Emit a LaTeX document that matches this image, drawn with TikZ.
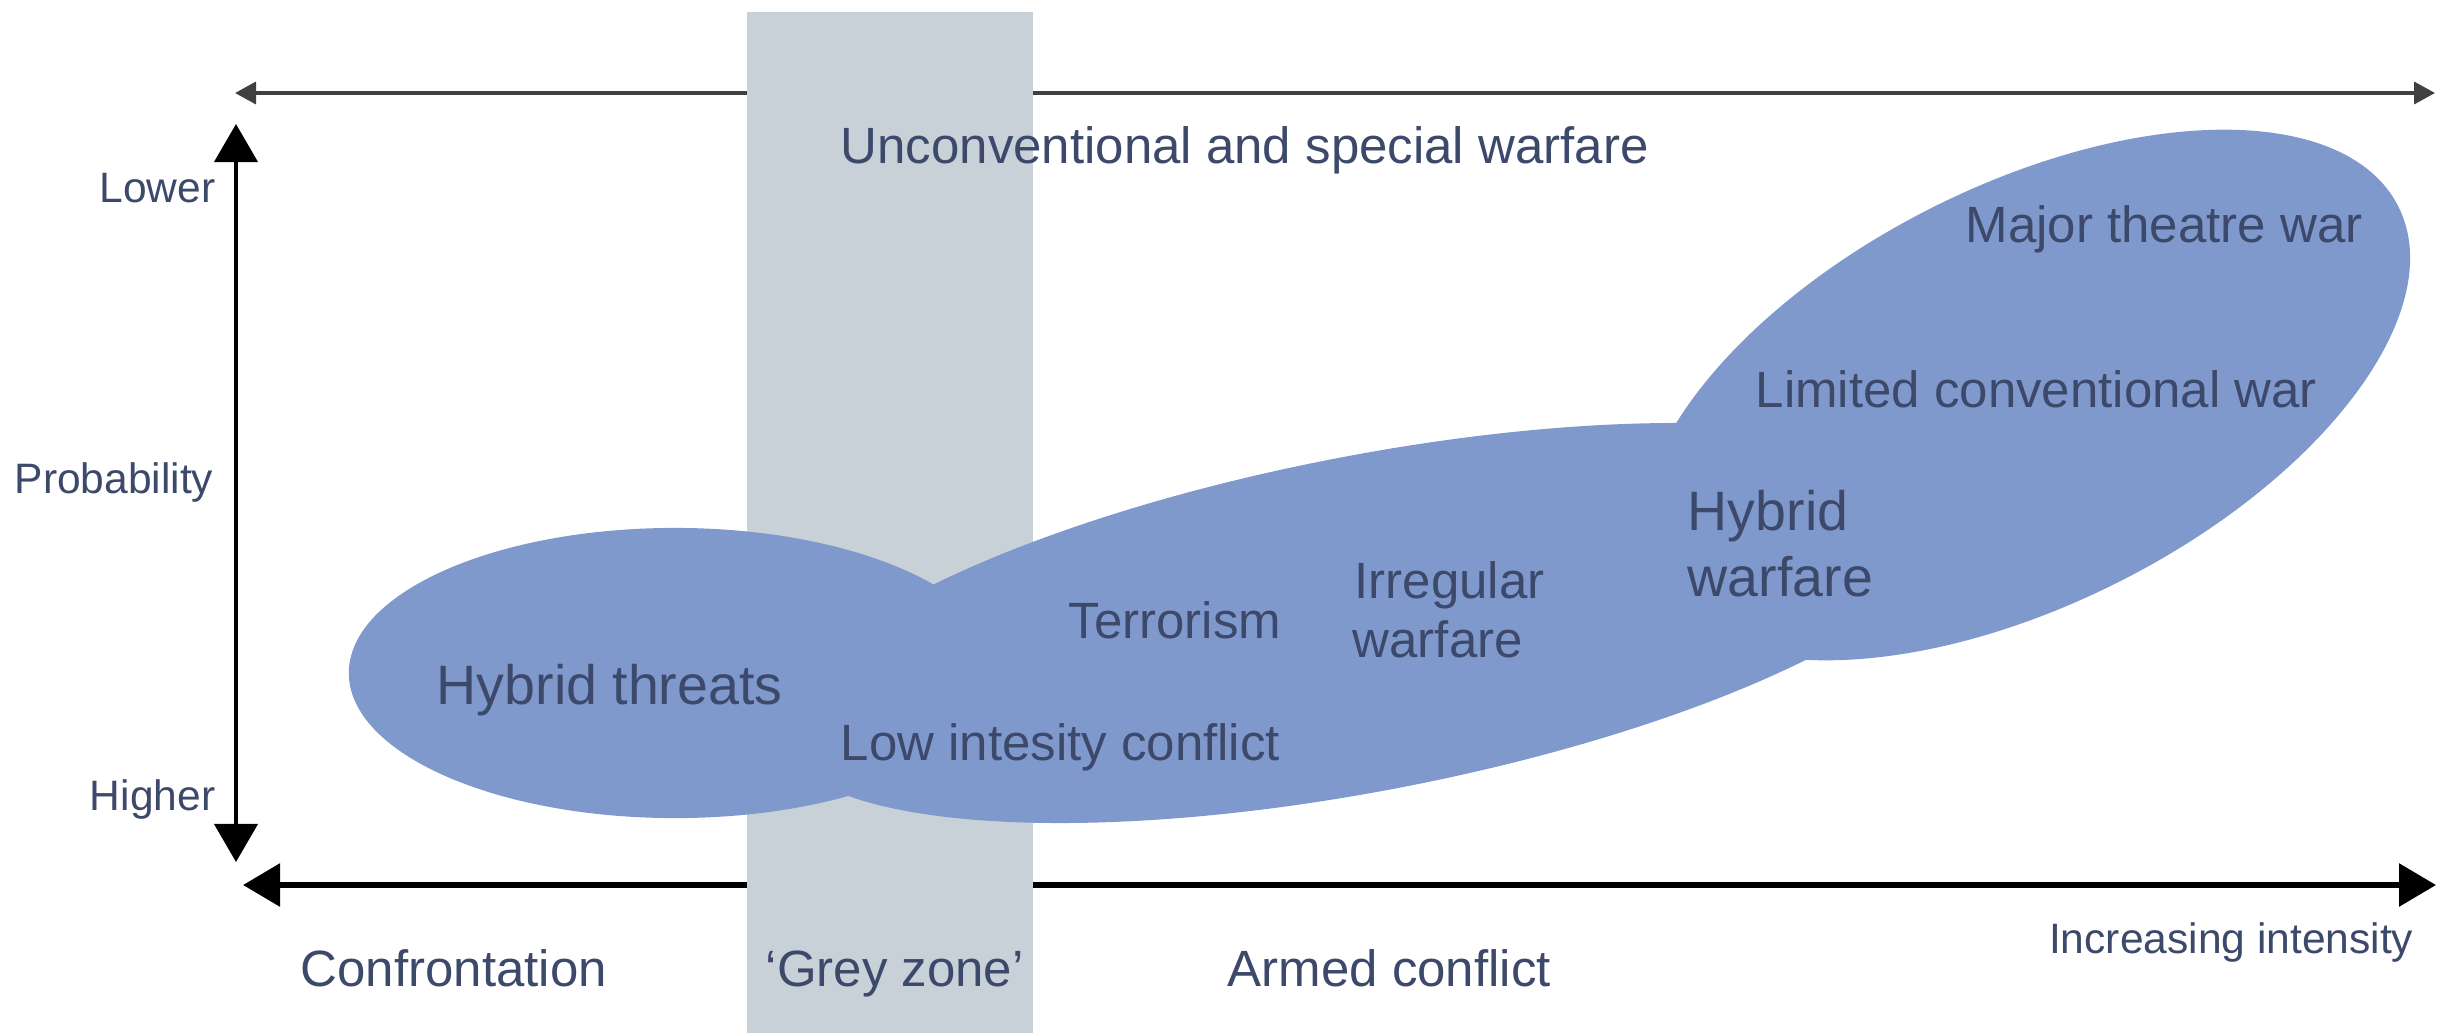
\documentclass[tikz,border=0pt]{standalone}
\usepackage{fontspec}
\setmainfont{Liberation Sans}
\usetikzlibrary{arrows.meta}
\definecolor{blobc}{RGB}{128,153,204}
\definecolor{bandc}{RGB}{200,209,215}
\definecolor{txtc}{RGB}{61,73,107}
\begin{document}
\begin{tikzpicture}[x=0.01cm,y=-0.01cm,
  big/.style={font=\fontsize{14.5}{17}\selectfont, text=txtc, inner sep=0pt},
  bigger/.style={font=\fontsize{15.8}{19}\selectfont, text=txtc, inner sep=0pt},
  small/.style={font=\fontsize{12.1}{14.5}\selectfont, text=txtc, inner sep=0pt},
  toparrow/.style={draw=black!75, line width=0.035cm, {Triangle[length=0.21cm,width=0.22cm]}-{Triangle[length=0.21cm,width=0.22cm]}},
  vertarrow/.style={draw=black, line width=0.04cm, {Triangle[length=0.38cm,width=0.43cm]}-{Triangle[length=0.38cm,width=0.43cm]}},
  botarrow/.style={draw=black, line width=0.06cm, {Triangle[length=0.37cm,width=0.42cm]}-{Triangle[length=0.37cm,width=0.42cm]}},
  blob/.style={fill=blobc},
  band/.style={fill=bandc}]
\useasboundingbox (0,0) rectangle (2437,1033);

% axes
\coordinate (tl) at (235,93);
\coordinate (tr) at (2435,93);
\coordinate (vt) at (236,124);
\coordinate (vb) at (236,862);
\coordinate (bl) at (243,885);
\coordinate (br) at (2436,885);
\draw[toparrow] (tl) -- (tr);
\draw[vertarrow] (vt) -- (vb);
\draw[botarrow] (bl) -- (br);

% grey zone band
\fill[band] (747,12) rectangle (1033,1033);

% blobs
\fill[blob] (675,673) ellipse [x radius=3.26cm, y radius=1.45cm];
\fill[blob, rotate around={26.8:(2025,395)}] (2025,395) ellipse [x radius=4.18cm, y radius=2.09cm];
\fill[blob, rotate around={10.9:(1368,623)}] (1368,623) ellipse [x radius=6.00cm, y radius=1.676cm];

% labels
\node[big, anchor=base west] (unconv) at (840,163) {Unconventional and special warfare};
\node[small, anchor=base east] (lower) at (216,202) {Lower};
\node[small, anchor=base east] (prob) at (214,493) {Probability};
\node[small, anchor=base east] (higher) at (216,810) {Higher};
\node[bigger, anchor=base west] (hthreat) at (436,704) {Hybrid threats};
\node[big, anchor=base west] (lic) at (840,760) {Low intesity conflict};
\node[big, anchor=base west] (terr) at (1068,638) {Terrorism};
\node[big, anchor=base west] (irr1) at (1354,598) {Irregular};
\node[big, anchor=base west] (irr2) at (1352,657) {warfare};
\node[bigger, anchor=base west] (hyb1) at (1687,530) {Hybrid};
\node[bigger, anchor=base west] (hyb2) at (1687,596) {warfare};
\node[big, anchor=base west] (mtw) at (1965,242) {Major theatre war};
\node[big, anchor=base west] (lcw) at (1755,407) {Limited conventional war};
\node[small, anchor=base east] (inc) at (2414,953) {Increasing intensity};
\node[big, anchor=base west] (conf) at (300,986) {Confrontation};
\node[big, anchor=base west] (grey) at (765,986) {‘Grey zone’};
\node[big, anchor=base west] (armed) at (1227,986) {Armed conflict};
\end{tikzpicture}
\end{document}
